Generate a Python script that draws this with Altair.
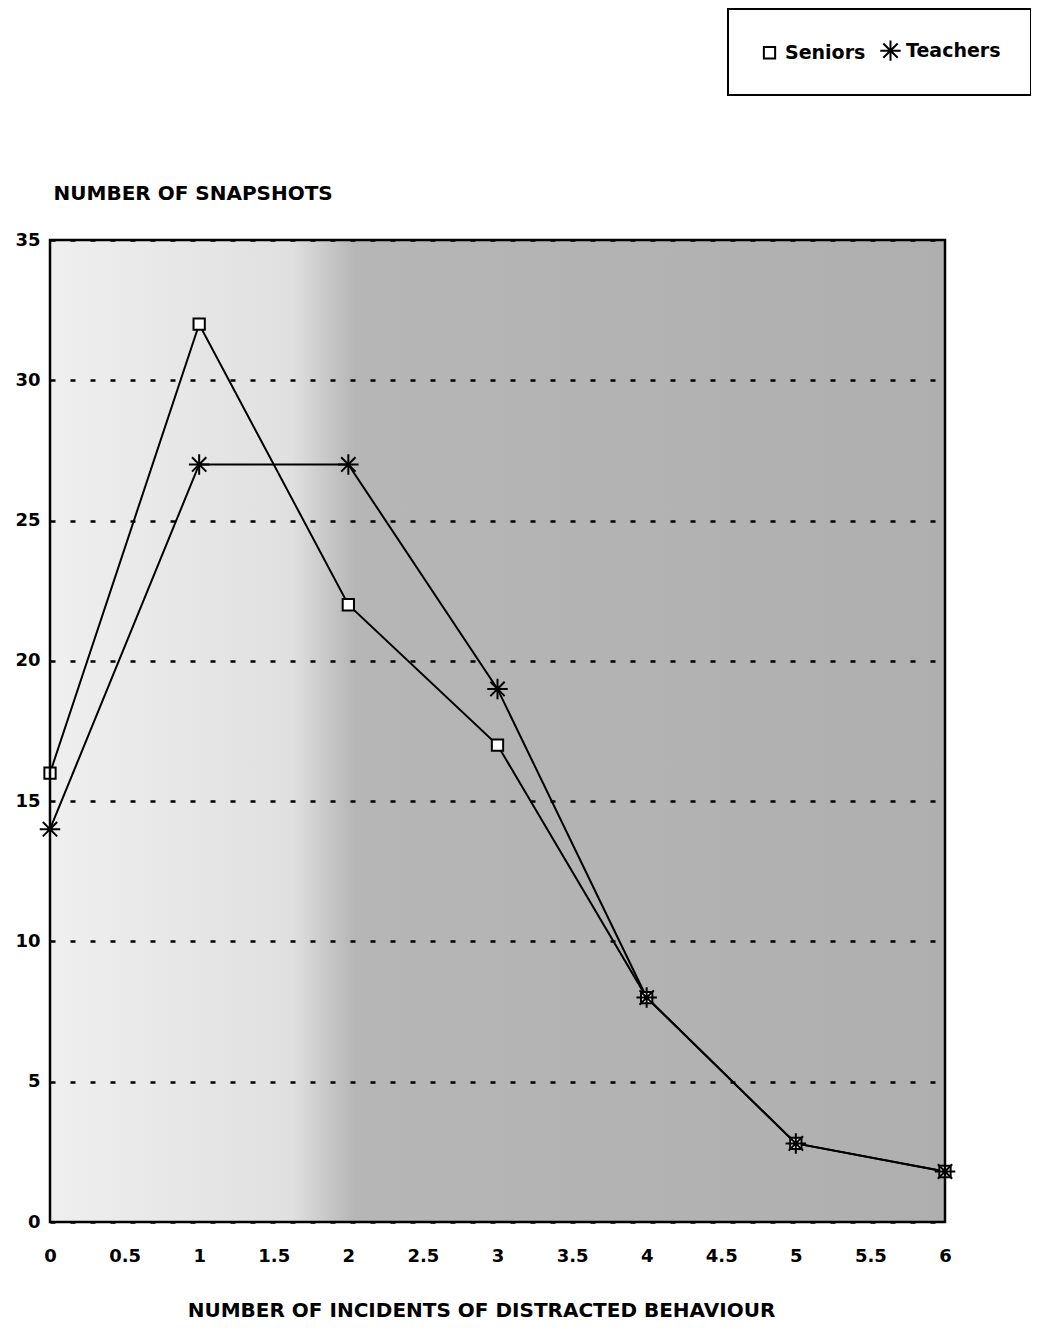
import altair as alt
import pandas as pd

incidents = [0, 1, 2, 3, 4, 5, 6]
seniors = [16, 32, 22, 17, 8, 2.8, 1.8]
teachers = [14, 27, 27, 19, 8, 2.8, 1.8]
series_names = ["Seniors", "Teachers"]
x_ticks = [0, 0.5, 1, 1.5, 2, 2.5, 3, 3.5, 4, 4.5, 5, 5.5, 6]
y_ticks = [0, 5, 10, 15, 20, 25, 30, 35]

rows = []
for name, vals in zip(series_names, [seniors, teachers]):
    for xv, yv in zip(incidents, vals):
        rows.append({"x": xv, "y": yv, "series": name})
df = pd.DataFrame(rows)

FONT = "DejaVu Sans"
SQUARE = "M-0.55,-0.55L0.55,-0.55L0.55,0.55L-0.55,0.55Z"
ASTERISK = "M-1,0L1,0M0,-1L0,1M-0.7,-0.7L0.7,0.7M-0.7,0.7L0.7,-0.7"

xscale = alt.Scale(domain=[0, 6], nice=False, zero=False)
yscale = alt.Scale(domain=[0, 35], nice=False)

xaxis = alt.Axis(
    values=x_ticks, format="~g", ticks=False, domain=False, grid=False,
    labelFont=FONT, labelFontWeight="bold", labelFontSize=18, labelColor="black",
    labelPadding=25, labelFlush=False,
    title="NUMBER OF INCIDENTS OF DISTRACTED BEHAVIOUR",
    titleFont=FONT, titleFontWeight="bold", titleFontSize=20, titleColor="black",
    titleX=431, titleY=94, titleBaseline="alphabetic", titleAnchor="start", titleAlign="center",
)
yaxis = alt.Axis(
    values=y_ticks, ticks=False, domain=False, grid=True,
    gridDash=[5, 15], gridColor="black", gridWidth=2.5, gridOpacity=1, zindex=1,
    labelFont=FONT, labelFontWeight="bold", labelFontSize=18, labelColor="black",
    labelPadding=10, labelFlush=False,
    title="NUMBER OF SNAPSHOTS",
    titleFont=FONT, titleFontWeight="bold", titleFontSize=20, titleColor="black",
    titleAngle=0, titleX=3, titleY=-41, titleAlign="left", titleBaseline="alphabetic",
    titleAnchor="start",
)

bg_df = pd.DataFrame({"x0": [0], "x1": [6], "y0": [0], "y1": [35]})

background = alt.Chart(bg_df).mark_rect(
    color=alt.Gradient(
        gradient="linear",
        stops=[
            alt.GradientStop(color="#efefef", offset=0),
            alt.GradientStop(color="#e0e0e0", offset=0.27),
            alt.GradientStop(color="#b6b6b6", offset=0.34),
            alt.GradientStop(color="#afafaf", offset=1),
        ],
        x1=0, x2=1, y1=0, y2=0,
    )
).encode(
    x=alt.X("x0:Q", scale=xscale, axis=xaxis),
    x2="x1:Q",
    y=alt.Y("y0:Q", scale=yscale, axis=yaxis),
    y2="y1:Q",
)

lines = alt.Chart(df).mark_line(color="black", strokeWidth=2).encode(
    x=alt.X("x:Q", scale=xscale),
    y=alt.Y("y:Q", scale=yscale),
    detail="series:N",
)

legend = alt.Legend(
    title=None, orient="none", legendX=678, legendY=-231, direction="horizontal",
    strokeColor="black", fillColor="white", padding=30,
    labelFont=FONT, labelFontWeight="bold", labelFontSize=19, labelColor="black",
    symbolStrokeColor="black", symbolFillColor="white", symbolStrokeWidth=2,
    symbolSize=420, symbolOpacity=1,
    columnPadding=10, labelOffset=4,
)

points = alt.Chart(df).mark_point(
    filled=False, color="black", fill="white", fillOpacity=1, stroke="black",
    strokeWidth=2, opacity=1, size=420
).encode(
    x=alt.X("x:Q", scale=xscale),
    y=alt.Y("y:Q", scale=yscale),
    shape=alt.Shape("series:N", scale=alt.Scale(domain=series_names, range=[SQUARE, ASTERISK]), legend=legend),
    stroke=alt.Stroke("series:N", scale=alt.Scale(domain=series_names, range=["black", "black"]), legend=legend),
)

border = alt.Chart(bg_df).mark_rect(filled=False, stroke="black", strokeWidth=2.5).encode(
    x=alt.X("x0:Q", scale=xscale),
    x2="x1:Q",
    y=alt.Y("y0:Q", scale=yscale),
    y2="y1:Q",
)

chart = alt.layer(background, lines, points, border).properties(
    width=895, height=982,
    padding={"left": 42, "top": 232, "right": 86, "bottom": 100},
    autosize=alt.AutoSizeParams(type="none"),
    background="white",
).configure_view(stroke=None).configure_legend(strokeWidth=2)

chart.save("out.html", embed_options={"renderer": "svg", "actions": False})
